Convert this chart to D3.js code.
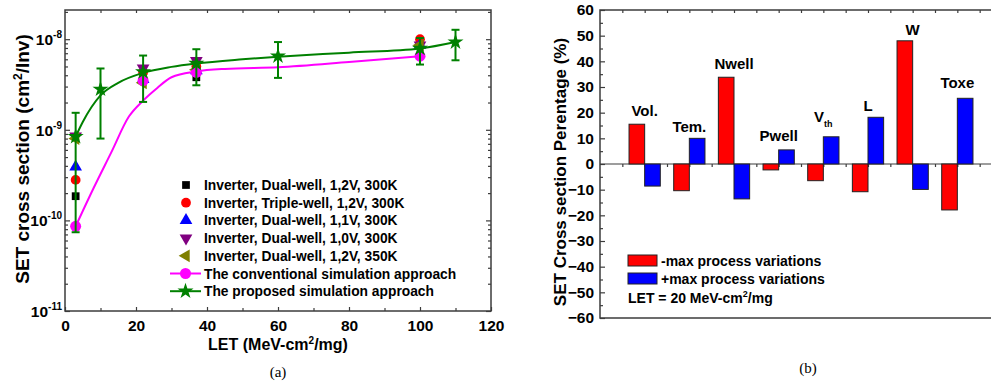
<!DOCTYPE html>
<html>
<head>
<meta charset="utf-8">
<script src="https://cdn.jsdelivr.net/npm/d3@7"></script>
<style>
  body { margin: 0; background: #fff; }
  svg { display: block; font-family: 'Liberation Sans', Arial, sans-serif; font-weight: bold; }
  svg text { font-family: 'Liberation Sans', Arial, sans-serif; }
  svg text.serif { font-family: 'Liberation Serif', 'Times New Roman', serif; font-weight: normal; }
</style>
</head>
<body>
<div id="app"></div>
<script>
// ---- (a) SET cross section vs LET
let letPts = [3, 22, 37, 100]
let dualWell12 = [1.85e-10, 3.6e-9, 3.8e-9, 9.0e-9]
let tripleWell12 = [2.8e-10, 4.3e-9, 5.0e-9, 1.0e-8]
let dualWell11 = [3.9e-10, 3.6e-9, 4.5e-9, 8.6e-9]
let dualWell10 = [8.5e-10, 4.8e-9, 5.8e-9, 8.6e-9]
let dualWell350 = [8.0e-10, 3.3e-9, 4.6e-9, 8.6e-9]
let convPts = [8.6e-11, 3.5e-9, 4.3e-9, 6.5e-9]

let convCurveLet = [3, 8, 13, 18, 22, 26, 30, 37, 45, 60, 80, 100]
let convCurve = [8.6e-11, 2.25e-10, 5.6e-10, 1.4e-9, 2.1e-9, 2.9e-9, 3.8e-9, 4.4e-9, 4.7e-9, 4.9e-9, 5.6e-9, 6.5e-9]

let propLet = [3, 10, 22, 37, 60, 100, 110]
let propVal = [8.4e-10, 2.8e-9, 4.35e-9, 5.4e-9, 6.5e-9, 7.9e-9, 9.3e-9]
let propHi = [1.54e-9, 4.75e-9, 6.6e-9, 7.75e-9, 9.3e-9, 1.03e-8, 1.27e-8]
let propLo = [7.4e-11, 8.0e-10, 2.03e-9, 3.1e-9, 3.74e-9, 5.25e-9, 5.85e-9]
let propCurveLet = [3, 5, 10, 15, 22, 30, 37, 50, 60, 80, 100, 110]
let propCurve = [8.4e-10, 1.22e-9, 2.4e-9, 3.3e-9, 4.25e-9, 4.95e-9, 5.4e-9, 6.0e-9, 6.4e-9, 7.1e-9, 7.9e-9, 9.3e-9]

let xTicksA = [0, 20, 40, 60, 80, 100, 120]
let yDecadesA = [1e-11, 1e-10, 1e-9, 1e-8]
let yExpA = ['-11', '-10', '-9', '-8']

// ---- (b) process variations
let params = ['Vol.', 'Tem.', 'Nwell', 'Pwell', 'V', 'L', 'W', 'Toxe']
let paramSub = ['', '', '', '', 'th', '', '', '']
let minusVar = [15.5, -10.4, 33.8, -2.3, -6.5, -10.8, 48.0, -17.9]
let plusVar = [-8.6, 10.0, -13.6, 5.5, 10.6, 18.2, -9.9, 25.6]
let labelAt = [18.6, 12.4, 37.1, 8.8, 16.2, 20.5, 50.4, 29.5]
let yTicksB = d3.range(-60, 61, 10)

let axisColor = '#3c3c3c'

const svg = d3.select('#app').append('svg')
  .attr('width', 991)
  .attr('height', 383)

// ================= chart (a) =================
let xA = d3.scaleLinear().domain([0, 120]).range([65, 491])
let yA = d3.scaleLog().domain([1e-11, 2.1e-8]).range([311, 10])

let minorLog = []
yDecadesA.forEach(d => {
  for (let k = 2; k <= 9; k++) {
    if (d * k <= 2.1e-8) minorLog.push(d * k)
  }
})

let gA = svg.append('g')

let tickStyle = (g) => {
  g.select('.domain').remove()
  g.selectAll('line').attr('stroke', axisColor).attr('stroke-width', 1.2)
  g.attr('font-family', null).attr('font-size', null)
}
let tickText = (g) => g.selectAll('text').attr('font-size', 15.5).attr('fill', '#000')

gA.append('g').attr('transform', 'translate(0,311)')
  .call(d3.axisBottom(xA).tickValues(xTicksA).tickSize(-4).tickPadding(9).tickFormat(d3.format('d')))
  .call(tickStyle)
  .call(tickText)
gA.append('g').attr('transform', 'translate(0,311)')
  .call(d3.axisBottom(xA).tickValues([10, 30, 50, 70, 90, 110]).tickSize(-3).tickFormat(''))
  .call(tickStyle)
gA.append('g').attr('transform', 'translate(0,10)')
  .call(d3.axisTop(xA).tickValues(d3.range(10, 120, 10)).tickSize(-3).tickFormat(''))
  .call(tickStyle)

gA.append('g').attr('transform', 'translate(65,0)')
  .call(d3.axisLeft(yA).tickValues(yDecadesA).tickSize(-5).tickFormat(''))
  .call(tickStyle)
gA.append('g').attr('transform', 'translate(65,0)')
  .call(d3.axisLeft(yA).tickValues(minorLog).tickSize(-3).tickFormat(''))
  .call(tickStyle)
gA.append('g').attr('transform', 'translate(491,0)')
  .call(d3.axisRight(yA).tickValues(yDecadesA).tickSize(-5).tickFormat(''))
  .call(tickStyle)
gA.append('g').attr('transform', 'translate(491,0)')
  .call(d3.axisRight(yA).tickValues(minorLog).tickSize(-3).tickFormat(''))
  .call(tickStyle)

yDecadesA.forEach((d, i) => {
  let t = gA.append('text')
    .attr('x', 62)
    .attr('y', yA(d) + 6)
    .attr('text-anchor', 'end')
    .attr('font-size', 15.5)
    .text('10')
  t.append('tspan').attr('dy', -7).attr('font-size', 10).text(yExpA[i])
})

gA.append('rect')
  .attr('x', 65).attr('y', 10)
  .attr('width', 426).attr('height', 301)
  .attr('fill', 'none')
  .attr('stroke', axisColor)
  .attr('stroke-width', 1.5)

// axis titles
let xTitleA = gA.append('text')
  .attr('x', xA(60)).attr('y', 350)
  .attr('text-anchor', 'middle')
  .attr('font-size', 16)
  .text('LET (MeV-cm')
xTitleA.append('tspan').attr('dy', -6).attr('font-size', 10).text('2')
xTitleA.append('tspan').attr('dy', 6).text('/mg)')

let yTitleA = gA.append('text')
  .attr('transform', 'translate(29,159) rotate(-90)')
  .attr('text-anchor', 'middle')
  .attr('font-size', 19)
  .text('SET cross section (cm')
yTitleA.append('tspan').attr('dy', -7).attr('font-size', 12).text('2')
yTitleA.append('tspan').attr('dy', 7).text('/Inv)')

// marker series
let series = [
  { name: 'Inverter, Dual-well, 1,2V, 300K', vals: dualWell12, color: '#000000', type: d3.symbolSquare, size: 60, rot: 0 },
  { name: 'Inverter, Triple-well, 1,2V, 300K', vals: tripleWell12, color: '#ff0000', type: d3.symbolCircle, size: 75, rot: 0 },
  { name: 'Inverter, Dual-well, 1,1V, 300K', vals: dualWell11, color: '#0000ff', type: d3.symbolTriangle, size: 70, rot: 0 },
  { name: 'Inverter, Dual-well, 1,0V, 300K', vals: dualWell10, color: '#800080', type: d3.symbolTriangle, size: 70, rot: 180 },
  { name: 'Inverter, Dual-well, 1,2V, 350K', vals: dualWell350, color: '#808000', type: d3.symbolTriangle, size: 70, rot: -90 }
]

series.forEach(s => {
  gA.append('g').selectAll('path')
    .data(s.vals)
    .enter()
    .append('path')
    .attr('d', d3.symbol().type(s.type).size(s.size))
    .attr('transform', (v, i) => `translate(${xA(letPts[i])},${yA(v)}) rotate(${s.rot})`)
    .attr('fill', s.color)
})

let lineA = d3.line()
  .x(d => xA(d[0]))
  .y(d => yA(d[1]))
  .curve(d3.curveMonotoneX)

// conventional approach
gA.append('path')
  .datum(convCurveLet.map((l, i) => [l, convCurve[i]]))
  .attr('d', lineA)
  .attr('fill', 'none')
  .attr('stroke', '#ff00ff')
  .attr('stroke-width', 2)
gA.append('g').selectAll('circle')
  .data(convPts)
  .enter()
  .append('circle')
  .attr('cx', (v, i) => xA(letPts[i]))
  .attr('cy', v => yA(v))
  .attr('r', 5.5)
  .attr('fill', '#ff00ff')

// proposed approach
gA.append('path')
  .datum(propCurveLet.map((l, i) => [l, propCurve[i]]))
  .attr('d', lineA)
  .attr('fill', 'none')
  .attr('stroke', '#008000')
  .attr('stroke-width', 2)

let errG = gA.append('g').attr('stroke', '#008000').attr('stroke-width', 2)
propLet.forEach((l, i) => {
  let cx = xA(l)
  errG.append('line').attr('x1', cx).attr('x2', cx).attr('y1', yA(propLo[i])).attr('y2', yA(propHi[i]))
  errG.append('line').attr('x1', cx - 4).attr('x2', cx + 4).attr('y1', yA(propLo[i])).attr('y2', yA(propLo[i]))
  errG.append('line').attr('x1', cx - 4).attr('x2', cx + 4).attr('y1', yA(propHi[i])).attr('y2', yA(propHi[i]))
})
gA.append('g').selectAll('path')
  .data(propVal)
  .enter()
  .append('path')
  .attr('d', d3.symbol().type(d3.symbolStar).size(80))
  .attr('transform', (v, i) => `translate(${xA(propLet[i])},${yA(v)})`)
  .attr('fill', '#008000')

// legend (a)
let legA = gA.append('g')
let legY = (i) => 185 + i * 17.7
series.forEach((s, i) => {
  legA.append('path')
    .attr('d', d3.symbol().type(s.type).size(s.size))
    .attr('transform', `translate(186,${legY(i)}) rotate(${s.rot})`)
    .attr('fill', s.color)
  legA.append('text').attr('x', 204).attr('y', legY(i) + 5).attr('font-size', 13.8).text(s.name)
})
let lineEntries = [
  { name: 'The conventional simulation approach', color: '#ff00ff', sym: d3.symbolCircle, size: 95 },
  { name: 'The proposed simulation approach', color: '#008000', sym: d3.symbolStar, size: 80 }
]
lineEntries.forEach((e, j) => {
  let yy = legY(5 + j)
  legA.append('line').attr('x1', 170).attr('x2', 201).attr('y1', yy).attr('y2', yy)
    .attr('stroke', e.color).attr('stroke-width', 2)
  legA.append('path')
    .attr('d', d3.symbol().type(e.sym).size(e.size))
    .attr('transform', `translate(185.5,${yy})`)
    .attr('fill', e.color)
  legA.append('text').attr('x', 204).attr('y', yy + 5).attr('font-size', 13.8).text(e.name)
})

svg.append('text')
  .attr('class', 'serif')
  .attr('x', xA(60)).attr('y', 377)
  .attr('text-anchor', 'middle')
  .attr('font-size', 15)
  .text('(a)')

// ================= chart (b) =================
let xB = d3.scaleLinear().domain([0, 9]).range([600, 1002])
let yB = d3.scaleLinear().domain([-60, 60]).range([318, 10])
let barW = xB(0.35) - xB(0)

let gB = svg.append('g')

gB.append('g').attr('transform', 'translate(600,0)')
  .call(d3.axisLeft(yB).tickValues(yTicksB).tickSize(-5).tickPadding(6))
  .call(tickStyle)
  .call(tickText)
gB.append('g').attr('transform', 'translate(600,0)')
  .call(d3.axisLeft(yB).tickValues(d3.range(-55, 60, 10)).tickSize(-3).tickFormat(''))
  .call(tickStyle)
gB.append('g').attr('transform', 'translate(0,10)')
  .call(d3.axisTop(xB).tickValues(d3.range(0.5, 9, 0.5)).tickSize(-3).tickFormat(''))
  .call(tickStyle)
gB.append('g').attr('transform', `translate(0,${yB(0)})`)
  .call(d3.axisTop(xB).tickValues(d3.range(0.5, 9, 0.5)).tickSize(-3).tickFormat(''))
  .call(tickStyle)

gB.append('line').attr('x1', 600).attr('x2', 991).attr('y1', yB(0)).attr('y2', yB(0))
  .attr('stroke', axisColor).attr('stroke-width', 1.2)
gB.append('path')
  .attr('d', 'M991,10H600V318H991')
  .attr('fill', 'none')
  .attr('stroke', axisColor)
  .attr('stroke-width', 1.5)

let barSets = [
  { vals: minusVar, color: '#ff0000', off: -barW },
  { vals: plusVar, color: '#0000ff', off: 0 }
]
barSets.forEach(b => {
  gB.append('g').selectAll('rect')
    .data(b.vals)
    .enter()
    .append('rect')
    .attr('x', (v, i) => xB(i + 1) + b.off)
    .attr('y', v => yB(Math.max(v, 0)))
    .attr('width', barW)
    .attr('height', v => Math.abs(yB(v) - yB(0)))
    .attr('fill', b.color)
    .attr('stroke', '#222')
    .attr('stroke-width', 1)
})

params.forEach((p, i) => {
  let t = gB.append('text')
    .attr('x', xB(i + 1))
    .attr('y', yB(labelAt[i]))
    .attr('text-anchor', 'middle')
    .attr('font-size', 15)
    .text(p)
  if (paramSub[i]) {
    t.append('tspan').attr('dy', 5).attr('font-size', 9).text(paramSub[i])
  }
})

gB.append('text')
  .attr('transform', 'translate(566,172) rotate(-90)')
  .attr('text-anchor', 'middle')
  .attr('font-size', 17)
  .text('SET Cross section Perentage (%)')

// legend (b)
let legB = gB.append('g')
let legBItems = [
  { name: '-max process variations', color: '#ff0000' },
  { name: '+max process variations', color: '#0000ff' }
]
legBItems.forEach((e, i) => {
  let yy = 260.5 + i * 18
  legB.append('rect').attr('x', 628).attr('y', yy - 5.5).attr('width', 29).attr('height', 11)
    .attr('fill', e.color).attr('stroke', '#222').attr('stroke-width', 1)
  legB.append('text').attr('x', 661).attr('y', yy + 5).attr('font-size', 14).text(e.name)
})
let letNote = legB.append('text').attr('x', 628).attr('y', 303).attr('font-size', 14).text('LET = 20 MeV-cm')
letNote.append('tspan').attr('dy', -6).attr('font-size', 9).text('2')
letNote.append('tspan').attr('dy', 6).text('/mg')

svg.append('text')
  .attr('class', 'serif')
  .attr('x', 808).attr('y', 373)
  .attr('text-anchor', 'middle')
  .attr('font-size', 15)
  .text('(b)')
</script>
</body>
</html>
